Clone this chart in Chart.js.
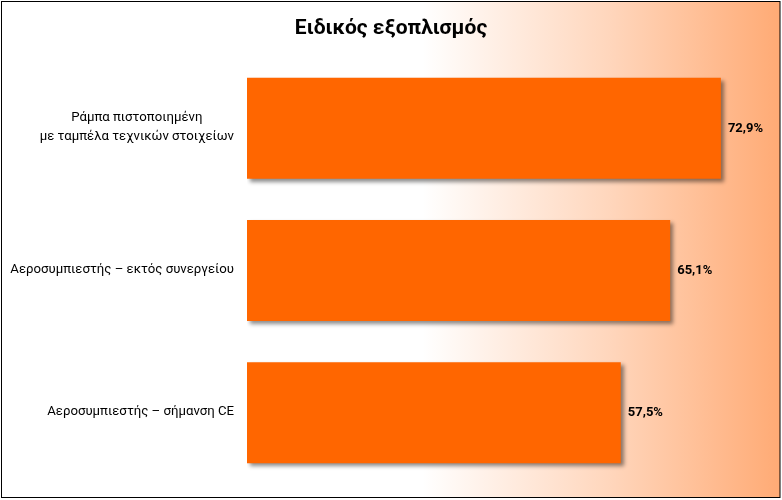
<!DOCTYPE html>
<html lang="el">
<head>
  <meta charset="UTF-8">
  <title>Ειδικός εξοπλισμός</title>
  <script src="https://cdn.jsdelivr.net/npm/chart.js"></script>
  <style>
    body {
      margin: 0;
      background: #fff;
    }

    .chart-box {
      width: 782px;
      height: 500px;
    }
  </style>
</head>
<body>
  <div class="chart-box">
    <canvas id="equipChart"></canvas>
  </div>

  <script>
    const chartTitle = 'Ειδικός εξοπλισμός';
    const categories = [
      ['Ράμπα πιστοποιημένη', 'με ταμπέλα τεχνικών στοιχείων'],
      'Αεροσυμπιεστής – εκτός συνεργείου',
      'Αεροσυμπιεστής – σήμανση CE'
    ];
    const values = [72.9, 65.1, 57.5];

    const fontFamily = 'Roboto, "Noto Sans", sans-serif';

    const formatPct = v => v.toFixed(1).replace('.', ',') + '%';

    // background gradient + frame
    const backgroundPlugin = {
      id: 'bgFrame',
      beforeDraw(chart) {
        const ctx = chart.ctx;
        const w = chart.width;
        const grad = ctx.createLinearGradient(0, 0, w, 0);
        grad.addColorStop(0, '#ffffff');
        grad.addColorStop(0.54, '#ffffff');
        grad.addColorStop(0.78, '#ffd6bc');
        grad.addColorStop(1, '#ffaa74');
        ctx.save();
        ctx.fillStyle = grad;
        ctx.fillRect(1, 1, 779, 496);
        ctx.restore();
      },
      afterDraw(chart) {
        const ctx = chart.ctx;
        ctx.save();
        ctx.strokeStyle = '#000';
        ctx.lineWidth = 1;
        ctx.strokeRect(1.5, 1.5, 778.5, 496);
        ctx.restore();
      }
    };

    // soft shadow under the bars
    const shadowPlugin = {
      id: 'barShadow',
      beforeDatasetDraw(chart) {
        const ctx = chart.ctx;
        ctx.save();
        ctx.shadowColor = 'rgba(0, 0, 0, 0.45)';
        ctx.shadowBlur = 4;
        ctx.shadowOffsetX = 3;
        ctx.shadowOffsetY = 3;
      },
      afterDatasetDraw(chart) {
        chart.ctx.restore();
      }
    };

    // category labels (centred lines, right edge at the axis) and value labels
    const labelPlugin = {
      id: 'labels',
      afterDatasetsDraw(chart) {
        const ctx = chart.ctx;
        const yScale = chart.scales.y;
        const meta = chart.getDatasetMeta(0);
        ctx.save();
        ctx.fillStyle = '#000';
        ctx.textBaseline = 'middle';

        ctx.font = '13.2px ' + fontFamily;
        const rightEdge = yScale.right - 13;
        categories.forEach((cat, i) => {
          const lines = Array.isArray(cat) ? cat : [cat];
          const maxW = Math.max(...lines.map(l => ctx.measureText(l).width));
          const cx = rightEdge - maxW / 2;
          const y = yScale.getPixelForTick(i);
          const lh = 19;
          ctx.textAlign = 'center';
          lines.forEach((l, j) => {
            ctx.fillText(l, cx, y + (j - (lines.length - 1) / 2) * lh - 1);
          });
        });

        ctx.font = 'bold 13px ' + fontFamily;
        ctx.textAlign = 'left';
        meta.data.forEach((bar, i) => {
          ctx.fillText(formatPct(values[i]), bar.x + 7, bar.y);
        });
        ctx.restore();
      }
    };

    window.onload = () => {
      new Chart(document.getElementById('equipChart').getContext('2d'), {
        type: 'bar',
        data: {
          labels: categories,
          datasets: [{
            data: values,
            backgroundColor: '#ff6600',
            borderWidth: 0,
            barPercentage: 0.71,
            categoryPercentage: 1
          }]
        },
        options: {
          indexAxis: 'y',
          responsive: true,
          maintainAspectRatio: false,
          animation: false,
          layout: {
            padding: { top: 0, right: 0, bottom: 16, left: 0 }
          },
          plugins: {
            legend: { display: false },
            tooltip: { enabled: false },
            title: {
              display: true,
              text: chartTitle,
              color: '#000',
              font: { family: fontFamily, size: 21, weight: 'bold' },
              padding: { top: 16, bottom: 16 }
            }
          },
          scales: {
            x: {
              display: false,
              min: 0,
              max: 82.3
            },
            y: {
              grid: { display: false },
              border: { display: false },
              ticks: { display: false },
              afterFit(scale) {
                scale.width = 247;
              }
            }
          }
        },
        plugins: [backgroundPlugin, shadowPlugin, labelPlugin]
      });
    };
  </script>
</body>
</html>
